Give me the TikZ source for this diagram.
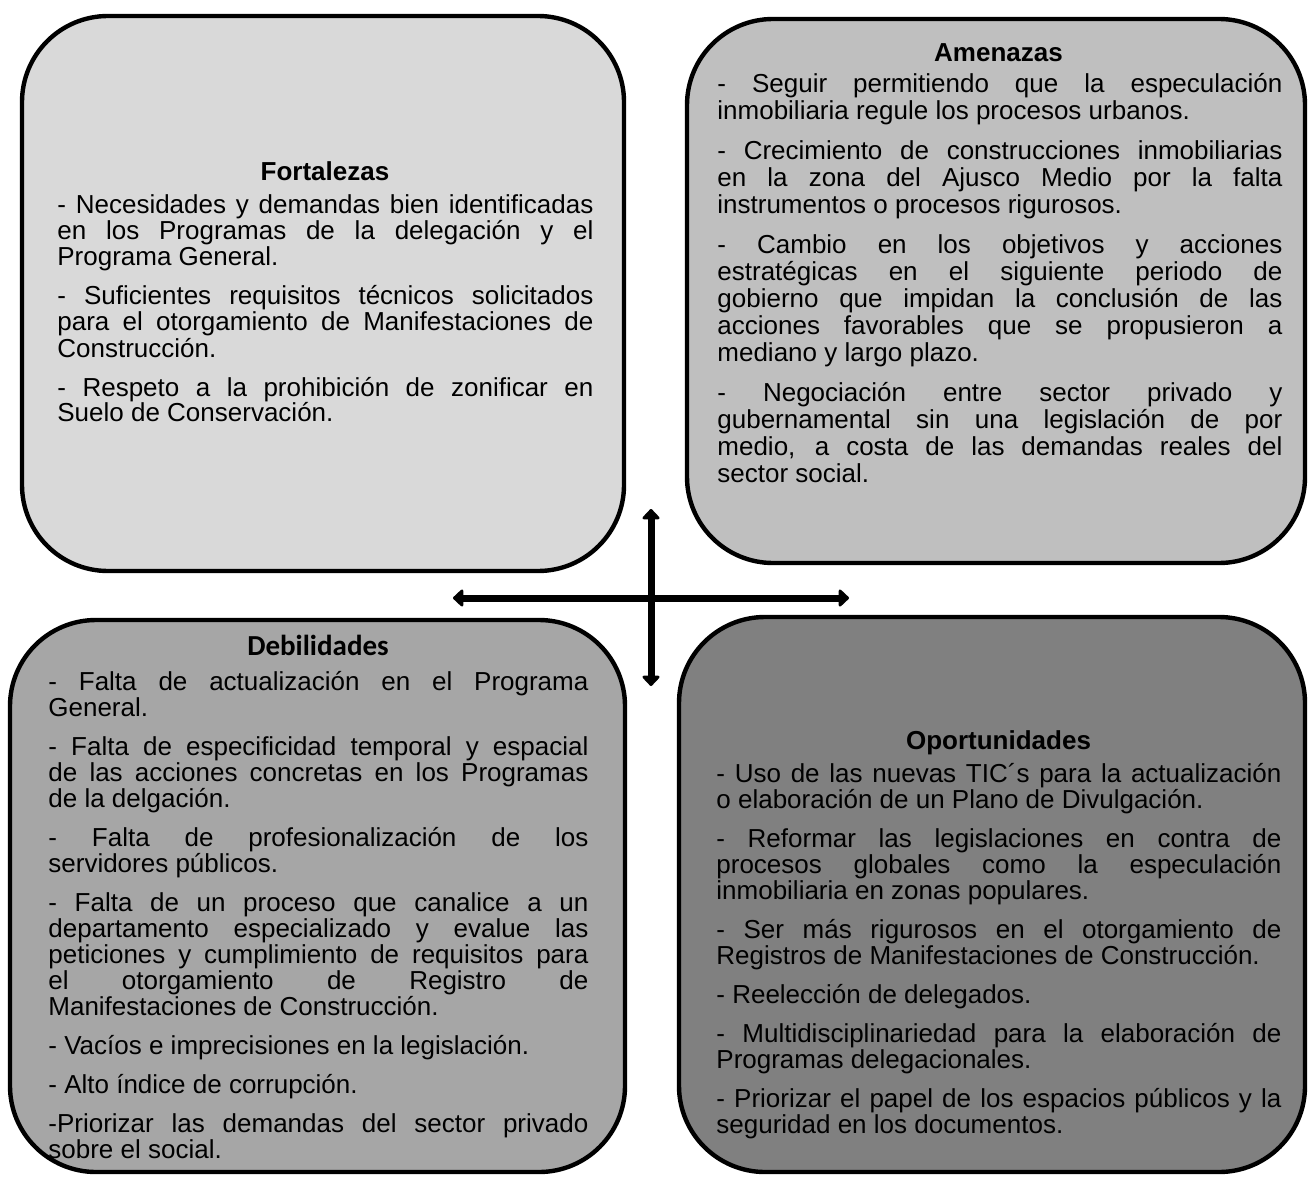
\documentclass[tikz,border=0pt]{standalone}
\usepackage{fontspec}
\setmainfont{Liberation Sans}
\newfontfamily\calibrifont{Carlito}
\usetikzlibrary{arrows.meta}

\definecolor{fortcolor}{HTML}{D9D9D9}
\definecolor{amencolor}{HTML}{BFBFBF}
\definecolor{debicolor}{HTML}{A6A6A6}
\definecolor{oporcolor}{HTML}{808080}

\hyphenpenalty=10000
\exhyphenpenalty=10000
\newcommand\swotgap{\par\vspace{6.5pt}}

\begin{document}
\begin{tikzpicture}[x=0.5pt, y=-0.5pt,
  swotbox/.style={draw=black, line width=2.2pt, rounded corners=43pt, inner sep=0pt},
  swottitle/.style={anchor=base, inner sep=0pt, font=\fontsize{13}{13}\selectfont\bfseries},
  swottext/.style={anchor=base west, inner sep=0pt, align=justify, font=\fontsize{13}{13}\selectfont},
  swotarrow/.style={line width=3.5pt, {Triangle[length=5.5pt,width=10pt,round]}-{Triangle[length=5.5pt,width=10pt,round]}}]
\useasboundingbox (0,0) rectangle (1309,1176);

% cuadrantes
\node[swotbox, fill=fortcolor, minimum width=301pt, minimum height=277.5pt] (fort) at (323,293.5) {};
\node[swotbox, fill=amencolor, minimum width=309pt, minimum height=272pt] (amen) at (996,291) {};
\node[swotbox, fill=debicolor, minimum width=307.5pt, minimum height=276pt] (debi) at (317.5,896) {};
\node[swotbox, fill=oporcolor, minimum width=313pt, minimum height=277.5pt] (opor) at (992,894.5) {};

% Fortalezas
\node[swottitle] (fortTitle) at (325,181) {Fortalezas};
\node[swottext, text width=268pt] (fortText) at (57,214) {%
- Necesidades y demandas bien identificadas \linebreak en los Programas de la delegación y el \linebreak Programa General.\swotgap
- Suficientes requisitos técnicos solicitados \linebreak para el otorgamiento de Manifestaciones de \linebreak Construcción.\swotgap
- Respeto a la prohibición de zonificar en \linebreak Suelo de Conservación.};

% Amenazas
\node[swottitle] (amenTitle) at (998.5,62) {Amenazas};
\node[swottext, text width=282.5pt, font=\fontsize{13}{13.5}\selectfont] (amenText) at (717,93) {%
- Seguir permitiendo que la especulación \linebreak inmobiliaria regule los procesos urbanos.\swotgap
- Crecimiento de construcciones inmobiliarias \linebreak en la zona del Ajusco Medio por la falta \linebreak instrumentos o procesos rigurosos.\swotgap
- Cambio en los objetivos y acciones \linebreak estratégicas en el siguiente periodo de \linebreak gobierno que impidan la conclusión de las \linebreak acciones favorables que se propusieron a \linebreak mediano y largo plazo.\swotgap
- Negociación entre sector privado y \linebreak gubernamental sin una legislación de por \linebreak medio, a costa de las demandas reales del \linebreak sector social.};

% Debilidades
\node[swottitle, font=\fontsize{14.5}{14.5}\calibrifont\bfseries] (debiTitle) at (318,655) {Debilidades};
\node[swottext, text width=270pt] (debiText) at (48,690) {%
- Falta de actualización en el Programa \linebreak General.\swotgap
- Falta de especificidad temporal y espacial \linebreak de las acciones concretas en los Programas \linebreak de la delgación.\swotgap
- Falta de profesionalización de los \linebreak servidores públicos.\swotgap
- Falta de un proceso que canalice a un \linebreak departamento especializado y evalue las \linebreak peticiones y cumplimiento de requisitos para \linebreak el otorgamiento de Registro de \linebreak Manifestaciones de Construcción.\swotgap
- Vacíos e imprecisiones en la legislación.\swotgap
- Alto índice de corrupción.\swotgap
-Priorizar las demandas del sector privado \linebreak sobre el social.};

% Oportunidades
\node[swottitle] (oporTitle) at (998.5,749) {Oportunidades};
\node[swottext, text width=282.5pt] (oporText) at (716,782) {%
- Uso de las nuevas TIC´s para la actualización \linebreak o elaboración de un Plano de Divulgación.\swotgap
- Reformar las legislaciones en contra de \linebreak procesos globales como la especulación \linebreak inmobiliaria en zonas populares.\swotgap
- Ser más rigurosos en el otorgamiento de \linebreak Registros de Manifestaciones de Construcción.\swotgap
- Reelección de delegados.\swotgap
- Multidisciplinariedad para la elaboración de \linebreak Programas delegacionales.\swotgap
- Priorizar el papel de los espacios públicos y la \linebreak seguridad en los documentos.};

% flechas
\coordinate (hLeft) at (453,598);
\coordinate (hRight) at (849,598);
\coordinate (vTop) at (651,509);
\coordinate (vBottom) at (651,686);
\draw[swotarrow] (hLeft) -- (hRight);
\draw[swotarrow] (vTop) -- (vBottom);
\end{tikzpicture}
\end{document}
